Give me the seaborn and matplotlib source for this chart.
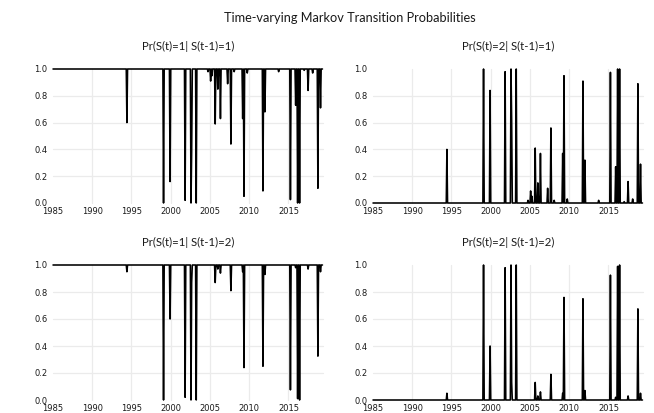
import numpy as np
import pandas as pd
import matplotlib
matplotlib.use("Agg")
import matplotlib.pyplot as plt
import seaborn as sns

# ---------------- data ----------------
start_month = "1985-01"
end_month = "2019-05"

# top row: regime switches from state 1
top_months = ["1994-06", "1999-02", "1999-12", "2001-11", "2002-08", "2002-09",
              "2003-04", "2004-10", "2005-02", "2005-04", "2005-09", "2006-01",
              "2006-05", "2007-04", "2007-09", "2008-02", "2009-03", "2009-05",
              "2009-10", "2011-10", "2012-01", "2013-10", "2015-04", "2015-12",
              "2016-03", "2016-06", "2017-01", "2017-07", "2018-02", "2018-10",
              "2019-02"]
p11_base = 1.0
p11_vals = [0.60, 0.00, 0.16, 0.02, 0.00, 0.38,
            0.00, 0.98, 0.91, 0.95, 0.59, 0.85,
            0.63, 0.89, 0.44, 0.98, 0.63, 0.05,
            0.97, 0.09, 0.68, 0.98, 0.025, 0.73,
            0.00, 0.00, 0.99, 0.84, 0.97, 0.11,
            0.71]
p21_base = 0.0
p21_vals = [0.40, 1.00, 0.84, 0.98, 1.00, 0.62,
            1.00, 0.02, 0.09, 0.05, 0.41, 0.15,
            0.37, 0.11, 0.56, 0.02, 0.37, 0.95,
            0.03, 0.91, 0.32, 0.02, 0.975, 0.27,
            1.00, 1.00, 0.01, 0.16, 0.03, 0.89,
            0.29]

# bottom row: regime switches from state 2
bot_months = ["1994-06", "1999-02", "1999-12", "2001-11", "2002-08", "2002-09",
              "2003-04", "2005-09", "2006-01", "2006-05", "2007-09", "2009-03",
              "2009-05", "2011-10", "2012-01", "2015-04", "2015-12", "2016-03",
              "2016-06", "2017-07", "2018-10", "2019-02"]
p12_base = 1.0
p12_vals = [0.95, 0.00, 0.60, 0.02, 0.00, 0.87,
            0.00, 0.87, 0.97, 0.94, 0.81, 0.95,
            0.24, 0.25, 0.93, 0.075, 0.98, 0.01,
            0.00, 0.97, 0.325, 0.95]
p22_base = 0.0
p22_vals = [0.05, 1.00, 0.40, 0.98, 1.00, 0.13,
            1.00, 0.13, 0.03, 0.06, 0.19, 0.05,
            0.76, 0.75, 0.07, 0.925, 0.02, 0.99,
            1.00, 0.03, 0.675, 0.05]

panel_titles = ["Pr(S(t)=1| S(t-1)=1)", "Pr(S(t)=2| S(t-1)=1)",
                "Pr(S(t)=1| S(t-1)=2)", "Pr(S(t)=2| S(t-1)=2)"]
main_title = "Time-varying Markov Transition Probabilities"
x_ticks = [1985, 1990, 1995, 2000, 2005, 2010, 2015]
y_ticks = [0.0, 0.2, 0.4, 0.6, 0.8, 1.0]
y_ticklabels = ["0.0", "0.2", "0.4", "0.6", "0.8", "1.0"]

# ---------------- build monthly series ----------------
months = pd.period_range(start_month, end_month, freq="M")


def build(base, event_months, vals):
    s = pd.Series(base, index=months, dtype=float)
    s.loc[pd.PeriodIndex(event_months, freq="M")] = vals
    df = pd.DataFrame({"date": s.index.year + (s.index.month - 1) / 12.0,
                       "value": s.values})
    return df


series = [build(p11_base, top_months, p11_vals),
          build(p21_base, top_months, p21_vals),
          build(p12_base, bot_months, p12_vals),
          build(p22_base, bot_months, p22_vals)]

# ---------------- plot ----------------
sns.set_style("white")
plt.rcParams["font.family"] = ["DejaVu Sans"]

W, H = 654, 413
fig = plt.figure(figsize=(W / 100, H / 100), dpi=100)

# axes boxes in pixels: (x0, x1, ytop, ybot)
boxes = [(53, 323, 69, 203), (373, 643, 69, 203),
         (53, 323, 265, 400), (373, 643, 265, 400)]

grid_color = "#ebebeb"
for i, (df, (x0, x1, yt, yb)) in enumerate(zip(series, boxes)):
    ax = fig.add_axes([x0 / W, 1 - yb / H, (x1 - x0) / W, (yb - yt) / H])
    for gx in x_ticks[1:]:
        ax.axvline(gx, color=grid_color, lw=0.9, zorder=0)
    for gy in y_ticks[1:-1]:
        ax.axhline(gy, color=grid_color, lw=0.9, zorder=0)
    sns.lineplot(data=df, x="date", y="value", ax=ax, color="black",
                 linewidth=1.15, zorder=3)
    for ln in ax.lines:
        ln.set_clip_on(False)
    ax.set_xlim(1985, 2019.4)
    ax.set_ylim(0, 1)
    ax.set_xticks(x_ticks)
    ax.set_xticklabels([str(t) for t in x_ticks], fontsize=6.0, color="#1a1a1a")
    ax.set_yticks(y_ticks)
    ax.set_yticklabels(y_ticklabels, fontsize=6.0, color="#1a1a1a")
    ax.tick_params(axis="x", length=0, pad=3.2)
    ax.tick_params(axis="y", length=0, pad=4)
    ax.set_xlabel("")
    ax.set_ylabel("")
    for sp in ax.spines.values():
        sp.set_visible(False)
    ax.grid(False)
    ax.set_title(panel_titles[i], fontsize=8.2, family=["Lato", "DejaVu Sans"],
                 color="#1a1a1a", pad=14)

fig.text(350 / W, 1 - 18 / H, main_title, ha="center", va="center",
         fontsize=9.2, family=["Lato", "DejaVu Sans"], color="#1a1a1a")

fig.savefig("out.png", dpi=100, facecolor="white")
